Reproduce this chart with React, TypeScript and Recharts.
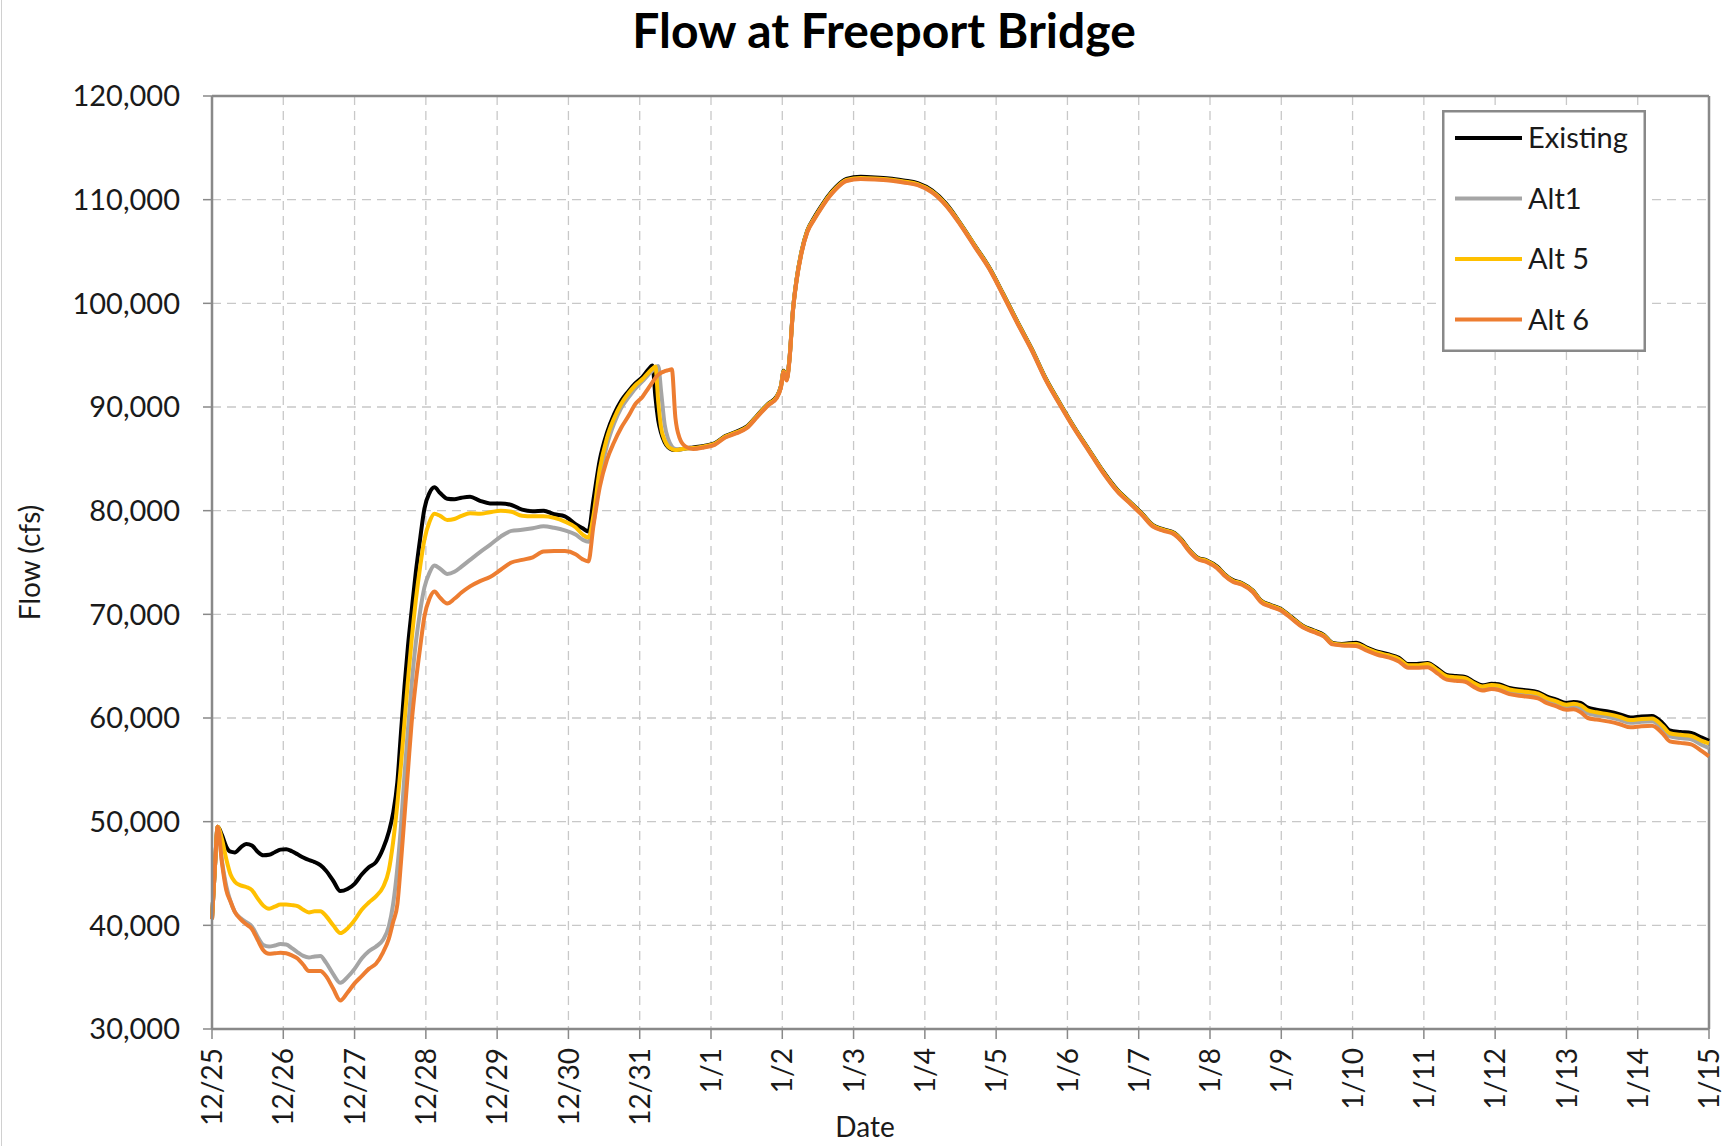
import React from 'react';
import { LineChart, Line, XAxis, YAxis, CartesianGrid, ReferenceLine, Label } from 'recharts';

// Days since 12/25 (x position of every sample)
const days = [
  0, 0.04, 0.08, 0.14, 0.2, 0.26, 0.32, 0.4, 0.48, 0.56,
  0.64, 0.72, 0.8, 0.88, 0.96, 1.04, 1.12, 1.2, 1.28, 1.36,
  1.44, 1.52, 1.6, 1.7, 1.8, 1.9, 2.0, 2.1, 2.2, 2.3,
  2.4, 2.48, 2.54, 2.6, 2.65, 2.7, 2.75, 2.8, 2.86, 2.92,
  2.98, 3.05, 3.12, 3.2, 3.3, 3.4, 3.5, 3.62, 3.76, 3.9,
  4.05, 4.2, 4.35, 4.5, 4.65, 4.8, 4.95, 5.1, 5.2, 5.28,
  5.35, 5.44, 5.54, 5.64, 5.74, 5.84, 5.94, 6.04, 6.12, 6.18,
  6.22, 6.26, 6.3, 6.35, 6.4, 6.45, 6.5, 6.56, 6.64,
  6.75, 6.9, 7.05, 7.2, 7.35, 7.5, 7.65, 7.8, 7.92, 7.98,
  8.02, 8.06, 8.1, 8.15, 8.2, 8.27, 8.35, 8.45, 8.55, 8.65,
  8.75, 8.9, 9.1, 9.3, 9.5, 9.7, 9.9, 10.1, 10.3, 10.5,
  10.7, 10.9, 11.1, 11.3, 11.5, 11.7, 11.9, 12.1, 12.3, 12.5,
  12.7, 12.9, 13.05, 13.2, 13.35, 13.5, 13.6, 13.7, 13.82, 13.95,
  14.1, 14.2, 14.32, 14.45, 14.6, 14.72, 14.85, 15.0, 15.15, 15.3,
  15.45, 15.6, 15.72, 15.85, 16.05, 16.2, 16.35, 16.5, 16.65, 16.78,
  16.9, 17.05, 17.2, 17.32, 17.45, 17.58, 17.7, 17.82, 17.95, 18.05,
  18.2, 18.4, 18.6, 18.72, 18.85, 19.0, 19.1, 19.2, 19.3, 19.42,
  19.6, 19.75, 19.9, 20.05, 20.2, 20.35, 20.45, 20.6, 20.75, 20.9,
  21.0,
];

const existing = [
  40600, 45500, 49500, 48700, 47600, 47100, 47030, 47500, 47850, 47700,
  47100, 46750, 46800, 47050, 47300, 47350, 47150, 46850, 46550, 46300,
  46100, 45800, 45270, 44300, 43300, 43500, 44000, 44900, 45600, 46100,
  47400, 49000, 50800, 53800, 58500, 63000, 67000, 70300, 74100, 77300,
  80200, 81700, 82250, 81700, 81150, 81100, 81250, 81350, 80950, 80700,
  80700, 80550, 80100, 79950, 80000, 79650, 79450, 78700, 78300, 78000,
  81000, 84900, 87500, 89300, 90600, 91500, 92300, 92900, 93600, 94000,
  91000, 88700, 87500, 86600, 86100, 85900, 85850, 85900, 86000,
  86100, 86250, 86500, 87200, 87600, 88100, 89200, 90300, 91000, 92000,
  93500, 92700, 94600, 99400, 102300, 105000, 107000, 108300, 109400, 110400,
  111200, 112000, 112200, 112150, 112050, 111850, 111600, 110900, 109600, 107700,
  105600, 103500, 100900, 98200, 95600, 92700, 90300, 88000, 85900, 83800,
  82000, 80700, 79700, 78600, 78200, 77850, 77200, 76300, 75500, 75200,
  74600, 73900, 73300, 73000, 72300, 71300, 70900, 70500, 69700, 68900,
  68450, 68000, 67250, 67150, 67250, 66800, 66400, 66150, 65800, 65200,
  65200, 65300, 64700, 64150, 64050, 63950, 63500, 63150, 63300, 63250,
  62900, 62700, 62500, 62100, 61800, 61450, 61550, 61450, 61000, 60800,
  60600, 60350, 60050, 60150, 60200, 59500, 58800, 58650, 58550, 58100,
  57800,
];

const alt1 = [
  40600, 45500, 49500, 46200, 43800, 42300, 41300, 40700, 40300, 39900,
  38900, 38100, 37950, 38050, 38200, 38150, 37800, 37400, 37050, 36900,
  37000, 37050, 36400, 35300, 34450, 35000, 35800, 36800, 37500, 37950,
  38600, 39900, 42000, 45500, 49500, 54500, 59000, 63200, 67300, 70300,
  72600, 74000, 74700, 74400, 73900, 74100, 74600, 75250, 76000, 76700,
  77500, 78050, 78150, 78300, 78500, 78350, 78100, 77700, 77200, 77000,
  78800, 83000, 86300, 88400, 89900, 90900, 91800, 92500, 93100, 93500,
  93800, 93950, 91500, 88300, 86900, 86200, 85950, 85900, 86000,
  86000, 86150, 86400, 87100, 87500, 88000, 89100, 90200, 90900, 91900,
  93400, 92600, 94500, 99300, 102200, 104900, 106900, 108150, 109250, 110250,
  111050, 111850, 112050, 112000, 111900, 111700, 111450, 110750, 109450, 107600,
  105500, 103400, 100800, 98100, 95500, 92600, 90200, 87900, 85800, 83700,
  81900, 80600, 79600, 78500, 78100, 77750, 77100, 76200, 75400, 75100,
  74500, 73800, 73200, 72900, 72200, 71200, 70800, 70400, 69600, 68800,
  68350, 67900, 67150, 67050, 67080, 66630, 66230, 65980, 65600, 65000,
  65000, 65080, 64450, 63900, 63800, 63700, 63220, 62870, 63020, 62950,
  62570, 62370, 62170, 61740, 61440, 61090, 61150, 60950, 60450, 60280,
  60080, 59830, 59530, 59630, 59680, 58950, 58220, 58070, 57950, 57400,
  57100,
];

const alt5 = [
  40600, 45500, 49500, 48300, 46400, 44900, 44200, 43850, 43700, 43400,
  42600, 41900, 41600, 41800, 42000, 42000, 41950, 41850, 41500, 41250,
  41350, 41350, 40900, 40000, 39250, 39700, 40500, 41500, 42200, 42800,
  43700, 45300, 48000, 51700, 55400, 59600, 63700, 67500, 71400, 74600,
  77200, 78900, 79700, 79500, 79100, 79200, 79500, 79750, 79700, 79850,
  80000, 79900, 79500, 79450, 79450, 79300, 78950, 78400, 77700, 77400,
  79500, 84000, 87000, 88900, 90300, 91300, 92100, 92700, 93300, 93700,
  93900, 90500, 88000, 86800, 86200, 85950, 85850, 85900, 86000,
  86050, 86200, 86450, 87150, 87550, 88050, 89150, 90250, 90950, 91950,
  93450, 92650, 94550, 99350, 102250, 104950, 106950, 108200, 109300, 110300,
  111100, 111900, 112100, 112050, 111950, 111750, 111500, 110800, 109500, 107650,
  105550, 103450, 100850, 98150, 95550, 92650, 90250, 87950, 85850, 83750,
  81950, 80650, 79650, 78550, 78150, 77800, 77150, 76250, 75450, 75150,
  74550, 73850, 73250, 72950, 72250, 71250, 70850, 70450, 69650, 68850,
  68400, 67950, 67200, 67100, 67150, 66700, 66300, 66050, 65700, 65100,
  65100, 65200, 64580, 64030, 63930, 63830, 63380, 63030, 63180, 63120,
  62750, 62550, 62350, 61930, 61630, 61280, 61370, 61230, 60750, 60550,
  60350, 60100, 59800, 59900, 59950, 59230, 58530, 58380, 58270, 57800,
  57550,
];

const alt6 = [
  40600, 45500, 49500, 46000, 43400, 42300, 41300, 40600, 40100, 39650,
  38600, 37600, 37250, 37300, 37350, 37300, 37100, 36800, 36200, 35600,
  35600, 35600, 35100, 33900, 32750, 33500, 34400, 35100, 35800, 36300,
  37400, 38700, 40300, 42000, 46000, 50500, 55000, 59500, 63500, 66800,
  69800, 71500, 72200, 71600, 71050, 71500, 72100, 72700, 73200, 73600,
  74300, 75000, 75250, 75500, 76050, 76100, 76100, 75800, 75300, 75100,
  78500, 82300, 84900, 86600, 88000, 89100, 90300, 91000, 91800, 92400,
  92800, 93100, 93300, 93450, 93550, 93650, 89000, 87000, 86200,
  85950, 86100, 86350, 87050, 87450, 87950, 89050, 90150, 90850, 91850,
  93350, 92550, 94450, 99250, 102150, 104850, 106850, 108100, 109200, 110200,
  111000, 111800, 112000, 111950, 111850, 111650, 111400, 110700, 109400, 107550,
  105450, 103350, 100750, 98050, 95450, 92550, 90150, 87850, 85750, 83650,
  81850, 80550, 79550, 78450, 78050, 77700, 77050, 76150, 75350, 75050,
  74450, 73750, 73150, 72850, 72150, 71150, 70750, 70350, 69550, 68750,
  68300, 67850, 67100, 67000, 66950, 66500, 66100, 65850, 65450, 64850,
  64850, 64900, 64250, 63700, 63600, 63500, 63000, 62650, 62800, 62700,
  62300, 62100, 61900, 61450, 61150, 60800, 60850, 60550, 60000, 59850,
  59650, 59400, 59100, 59200, 59250, 58500, 57750, 57600, 57450, 56800,
  56300,
];

const dayTicks = [0, 1, 2, 3, 4, 5, 6, 7, 8, 9, 10, 11, 12, 13, 14, 15, 16, 17, 18, 19, 20, 21];
const dayLabels = [
  '12/25', '12/26', '12/27', '12/28', '12/29', '12/30', '12/31',
  '1/1', '1/2', '1/3', '1/4', '1/5', '1/6', '1/7', '1/8', '1/9',
  '1/10', '1/11', '1/12', '1/13', '1/14', '1/15',
];
const flowTicks = [30000, 40000, 50000, 60000, 70000, 80000, 90000, 100000, 110000, 120000];

const seriesKeys = ['existing', 'alt1', 'alt5', 'alt6'];
const seriesNames = ['Existing', 'Alt1', 'Alt 5', 'Alt 6'];
const seriesColors = ['#000000', '#a5a5a5', '#ffc000', '#ed7d31'];

const rows = days.map((d, i) => ({
  day: d,
  existing: existing[i],
  alt1: alt1[i],
  alt5: alt5[i],
  alt6: alt6[i],
}));

const W = 1735;
const H = 1146;
const FONT = 'Lato, "Open Sans", sans-serif';
const AXIS = '#898989';
const MARGIN = { top: 96, right: 26, bottom: 37, left: 102 };
const Y_AXIS_W = 110;
const X_AXIS_H = 80;
const PLOT_BOTTOM = H - MARGIN.bottom - X_AXIS_H;
const LEGEND = { x: 1442, y: 110, w: 204, h: 242, row0: 28, rowStep: 60.5 };

const XTick = (props: any) => {
  const { x, y, payload } = props;
  const label = dayLabels[dayTicks.indexOf(payload.value)] ?? '';
  return (
    <g transform={`translate(${x},${y})`}>
      <text transform="rotate(-90)" textAnchor="end" dy="0.36em" fontSize={28} fill="#1a1a1a" fontFamily={FONT}>
        {label}
      </text>
    </g>
  );
};

export default function App() {
  return (
    <div style={{ position: 'relative', width: W, height: H, background: '#ffffff', fontFamily: FONT }}>
      <style>{'body{margin:0;background:#fff;}'}</style>
      <LineChart width={W} height={H} data={rows} margin={MARGIN}>
        <CartesianGrid stroke="#c8c8c8" strokeWidth={1.3} strokeDasharray="9 6" />
        <XAxis
          dataKey="day"
          type="number"
          domain={[0, 21]}
          ticks={dayTicks}
          interval={0}
          height={X_AXIS_H}
          tick={<XTick />}
          tickSize={10}
          tickMargin={9}
          axisLine={{ stroke: AXIS, strokeWidth: 2.5 }}
          tickLine={{ stroke: AXIS, strokeWidth: 1.5 }}
        >
          <Label
            content={() => (
              <text x={865} y={PLOT_BOTTOM + 108} textAnchor="middle" fontSize={28} fill="#1a1a1a" fontFamily={FONT}>
                Date
              </text>
            )}
          />
        </XAxis>
        <YAxis
          type="number"
          domain={[30000, 120000]}
          ticks={flowTicks}
          interval={0}
          width={Y_AXIS_W}
          tickFormatter={(v: number) => v.toLocaleString('en-US')}
          tick={{ fontSize: 29, fill: '#1a1a1a', fontFamily: FONT }}
          tickSize={9}
          tickMargin={23}
          axisLine={{ stroke: AXIS, strokeWidth: 2.5 }}
          tickLine={{ stroke: AXIS, strokeWidth: 1.5 }}
        >
          <Label
            content={() => (
              <text
                transform={`translate(30,${(MARGIN.top + PLOT_BOTTOM) / 2}) rotate(-90)`}
                textAnchor="middle"
                dy="0.36em"
                fontSize={28}
                fill="#1a1a1a"
                fontFamily={FONT}
              >
                Flow (cfs)
              </text>
            )}
          />
        </YAxis>
        <ReferenceLine y={120000} stroke={AXIS} strokeWidth={2.5} />
        <ReferenceLine x={21} stroke={AXIS} strokeWidth={2.5} />
        {seriesKeys.map((k, i) => (
          <Line
            key={k}
            dataKey={k}
            name={seriesNames[i]}
            stroke={seriesColors[i]}
            strokeWidth={4}
            type="monotone"
            dot={false}
            activeDot={false}
            isAnimationActive={false}
          />
        ))}
      </LineChart>
      <svg
        width={W}
        height={H}
        style={{ position: 'absolute', left: 0, top: 0, pointerEvents: 'none' }}
      >
        <line x1={1.5} x2={1.5} y1={0} y2={H} stroke="#d0d0d0" strokeWidth={1} />
        <text x={884} y={48} textAnchor="middle" fontSize={48} fontWeight={700} fill="#000" fontFamily={FONT}>
          Flow at Freeport Bridge
        </text>
        <g transform={`translate(${LEGEND.x},${LEGEND.y})`}>
          <rect x={1.25} y={1.25} width={LEGEND.w - 2.5} height={LEGEND.h - 2.5} fill="#ffffff" stroke={AXIS} strokeWidth={2.5} />
          {seriesNames.map((name, i) => {
            const cy = LEGEND.row0 + i * LEGEND.rowStep;
            return (
              <g key={name}>
                <line x1={13} x2={80} y1={cy} y2={cy} stroke={seriesColors[i]} strokeWidth={4} />
                <text x={86} y={cy} dy="0.36em" fontSize={29} fill="#1a1a1a" fontFamily={FONT}>
                  {name}
                </text>
              </g>
            );
          })}
        </g>
      </svg>
    </div>
  );
}
